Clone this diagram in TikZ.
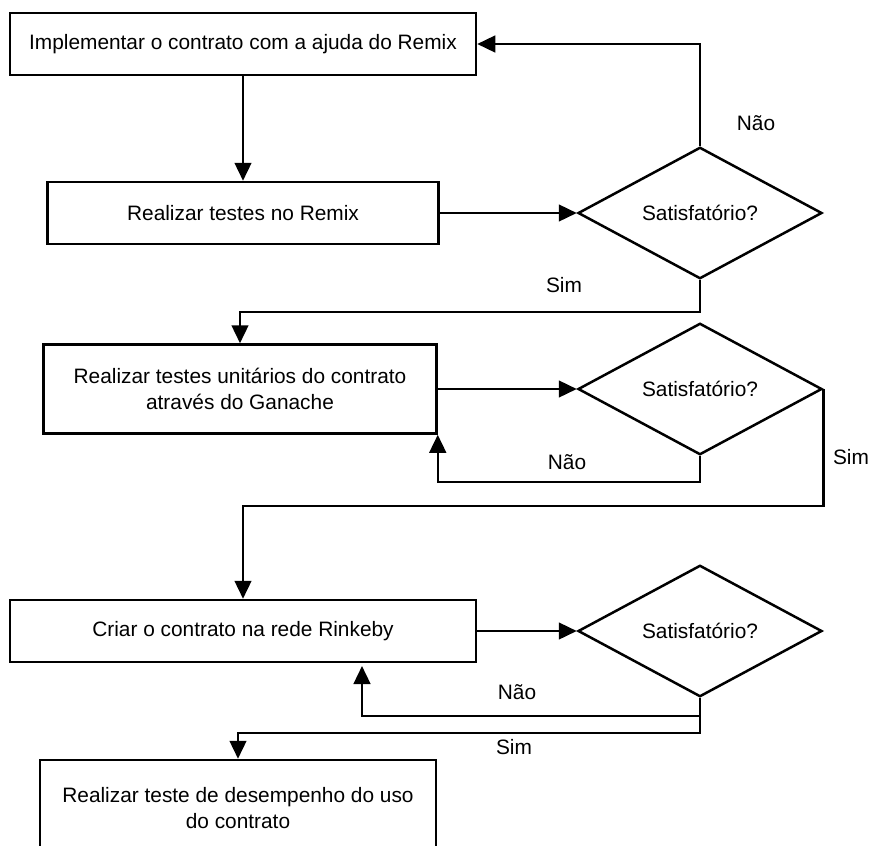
\documentclass[tikz,border=0pt]{standalone}
\usepackage{fontspec}
\setmainfont{Liberation Sans}
\usetikzlibrary{shapes.geometric,arrows.meta}

\begin{document}
\begin{tikzpicture}[x=0.3mm,y=-0.3mm,
  every node/.style={font=\fontsize{17.8}{22}\selectfont},
  passo/.style={draw,line width=0.75mm,rectangle,align=center,inner sep=0pt},
  decisao/.style={draw,line width=0.75mm,diamond,inner sep=0pt,minimum width=73.2mm,minimum height=36mm},
  seta/.style={line width=0.75mm,-{Triangle[length=5.4mm,width=5mm]}}]
  \useasboundingbox (0,0) rectangle (871,846);
  % passos
  \node[passo, minimum width=139.8mm, minimum height=18.6mm] (impl) at (243,44) {Implementar o contrato com a ajuda do Remix};
  \node[passo, minimum width=117.3mm, minimum height=18.6mm] (remix) at (243,213) {Realizar testes no Remix};
  \node[passo, minimum width=117.9mm, minimum height=26.7mm] (ganache) at (240,389) {Realizar testes unitários do contrato\\através do Ganache};
  \node[passo, minimum width=139.8mm, minimum height=18.6mm] (rinkeby) at (243,631) {Criar o contrato na rede Rinkeby};
  \node[passo, minimum width=118.8mm, minimum height=28.8mm] (desemp) at (238,808) {Realizar teste de desempenho do uso\\do contrato};
  % decisoes
  \node[decisao] (sat1) at (700,213) {Satisfatório?};
  \node[decisao] (sat2) at (700,389) {Satisfatório?};
  \node[decisao] (sat3) at (700,631) {Satisfatório?};
  \coordinate (volta3) at (362,666);
  % setas
  \draw[seta] (impl.south) -- (remix.north);
  \draw[seta] (remix.east) -- (sat1.west);
  \draw[seta] (sat1.north) |- (impl.east);
  \draw[seta] (sat1.south) -- ++(0,32) -| (ganache.north);
  \draw[seta] (ganache.east) -- (sat2.west);
  \draw[seta] (sat2.south) -- ++(0,26) -| (ganache.south east);
  \draw[seta] (sat2.east) -- ++(0,117) -| (rinkeby.north);
  \draw[seta] (rinkeby.east) -- (sat3.west);
  \draw[seta] (sat3.south) -- ++(0,18) -| (volta3);
  \draw[seta] (sat3.south) -- ++(0,35) -| (desemp.north);
  % rotulos
  \node (nao1) at (756,123) {Não};
  \node (sim1) at (564,285) {Sim};
  \node (nao2) at (567,462) {Não};
  \node (sim2) at (851,457) {Sim};
  \node (nao3) at (517,692) {Não};
  \node (sim3) at (514,747) {Sim};
\end{tikzpicture}
\end{document}
